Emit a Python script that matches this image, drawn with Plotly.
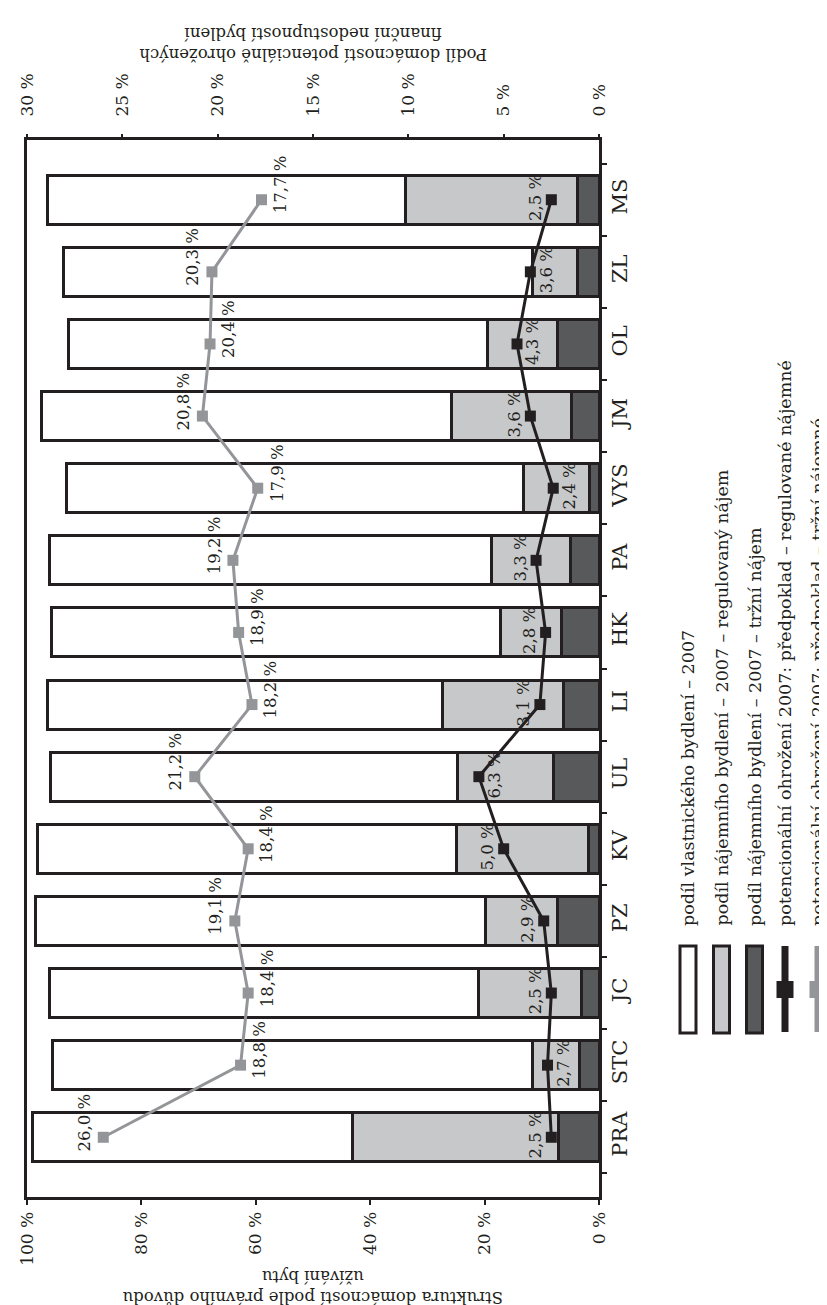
import plotly.graph_objects as go

# ---------------- data ----------------
regions = ["PRA", "STC", "JC", "PZ", "KV", "UL", "LI", "HK", "PA", "VYS", "JM", "OL", "ZL", "MS"]

# structure of households by legal reason of dwelling use (% of households)
rent_market = [7.0, 3.4, 3.1, 7.3, 1.9, 7.9, 6.2, 6.5, 4.9, 1.7, 4.8, 7.2, 3.8, 3.8]
rent_regulated = [36.1, 8.2, 17.9, 12.6, 23.0, 16.8, 21.2, 10.7, 13.9, 11.5, 21.0, 12.3, 7.9, 30.0]
owner = [56.0, 84.0, 75.1, 78.6, 73.2, 71.2, 69.1, 78.6, 77.3, 79.9, 71.6, 73.3, 81.9, 62.7]

# share of households potentially at risk (%)
risk_regulated = [2.5, 2.7, 2.5, 2.9, 5.0, 6.3, 3.1, 2.8, 3.3, 2.4, 3.6, 4.3, 3.6, 2.5]
risk_market = [26.0, 18.8, 18.4, 19.1, 18.4, 21.2, 18.2, 18.9, 19.2, 17.9, 20.8, 20.4, 20.3, 17.7]

primary_ticks = [0, 20, 40, 60, 80, 100]
secondary_ticks = [0, 5, 10, 15, 20, 25, 30]

legend_labels = [
    "podíl vlastnického bydlení – 2007",
    "podíl nájemního bydlení – 2007 – regulovaný nájem",
    "podíl nájemního bydlení – 2007 – tržní nájem",
    "potencionální ohrožení 2007: předpoklad – regulované nájemné",
    "potencionální ohrožení 2007: předpoklad – tržní nájemné",
]

# label placement (styling): -1 = left of marker, +1 = right of marker
side_regulated = [-1, 1, -1, -1, -1, 1, -1, -1, -1, 1, -1, 1, 1, -1]
side_market = [-1, 1, 1, -1, 1, -1, 1, 1, -1, 1, -1, 1, -1, 1]

# ---------------- style ----------------
W, H = 827, 1305
PL, PR, PT, PB = 19, 591, 132, 1189  # plot area in pixels
FONT = "DejaVu Serif"
BLACK = "#231f20"
LIGHT = "#c7c8ca"
DARK = "#58595b"
GREYLINE = "#939598"


def fmt(v):
    return f"{v:.1f}".replace(".", ",") + " %"


def px(x):
    return (x - PL) / (PR - PL)


def py(y):
    return (PB - y) / (PB - PT)


fig = go.Figure()

for vals, col in [(rent_market, DARK), (rent_regulated, LIGHT), (owner, "white")]:
    fig.add_trace(go.Bar(
        y=regions, x=vals, orientation="h",
        marker=dict(color=col, line=dict(color=BLACK, width=3)),
        xaxis="x", yaxis="y", showlegend=False, hoverinfo="skip",
    ))

for vals, col in [(risk_regulated, BLACK), (risk_market, GREYLINE)]:
    fig.add_trace(go.Scatter(
        y=regions, x=vals, mode="lines+markers",
        line=dict(color=col, width=3),
        marker=dict(symbol="square", size=11, color=col),
        xaxis="x2", yaxis="y", showlegend=False, hoverinfo="skip",
    ))

annotations = []
for vals, sides, dx, dy in [(risk_regulated, side_regulated, 16, 2), (risk_market, side_market, 19, 15)]:
    for r, v, s in zip(regions, vals, sides):
        annotations.append(dict(
            x=v, y=r, xref="x2", yref="y", text=fmt(v), textangle=-90,
            showarrow=False, xanchor="center", yanchor="middle",
            xshift=s * dx, yshift=dy,
            font=dict(family=FONT, size=16.5, color=BLACK),
        ))

# axis titles (upside down, as in the rotated original)
annotations.append(dict(
    x=px((PL + PR) / 2), y=py(1279), xref="paper", yref="paper",
    text="Struktura domácností podle právního důvodu<br>užívání bytu",
    textangle=180, showarrow=False, xanchor="center", yanchor="middle",
    font=dict(family=FONT, size=16.5, color=BLACK),
))
annotations.append(dict(
    x=px((PL + PR) / 2), y=py(36), xref="paper", yref="paper",
    text="Podíl domácností potenciálně ohrožených<br>finanční nedostupností bydlení",
    textangle=180, showarrow=False, xanchor="center", yanchor="middle",
    font=dict(family=FONT, size=16.5, color=BLACK),
))

# legend (rotated)
leg_x = [680, 713.5, 746.5, 777, 810]
shapes = []
for i, (lx, lab) in enumerate(zip(leg_x, legend_labels)):
    annotations.append(dict(
        x=px(lx), y=py(920), xref="paper", yref="paper", text=lab,
        textangle=-90, showarrow=False, xanchor="center", yanchor="bottom",
        font=dict(family=FONT, size=17.5, color=BLACK),
    ))
    if i < 3:
        fill = ["white", LIGHT, DARK][i]
        shapes.append(dict(type="rect", xref="paper", yref="paper",
                           x0=px(lx - 8), x1=px(lx + 8), y0=py(1025), y1=py(938),
                           fillcolor=fill, line=dict(color=BLACK, width=3)))
    else:
        col = [BLACK, GREYLINE][i - 3]
        shapes.append(dict(type="line", xref="paper", yref="paper",
                           x0=px(lx), x1=px(lx), y0=py(1024), y1=py(938),
                           line=dict(color=col, width=7)))
        shapes.append(dict(type="rect", xref="paper", yref="paper",
                           x0=px(lx - 8.5), x1=px(lx + 8.5), y0=py(990), y1=py(973),
                           fillcolor=col, line=dict(width=0)))

fig.update_layout(
    template="none",
    width=W, height=H,
    margin=dict(l=PL, r=W - PR, t=PT, b=H - PB, pad=0, autoexpand=False),
    paper_bgcolor="white", plot_bgcolor="white",
    barmode="stack", bargap=0.32,
    font=dict(family=FONT, color=BLACK),
    xaxis=dict(
        range=[100, 0], tickvals=primary_ticks, ticktext=[f"{t} %" for t in primary_ticks],
        tickangle=-90, tickfont=dict(family=FONT, size=17, color=BLACK),
        ticks="outside", ticklen=5, tickwidth=1.5, tickcolor=BLACK,
        showline=True, linecolor=BLACK, linewidth=3, mirror=True,
        showgrid=False, zeroline=False, automargin=False,
    ),
    xaxis2=dict(
        range=[30, 0], overlaying="x", side="top", anchor="y",
        tickvals=secondary_ticks, ticktext=[f"{t} %" for t in secondary_ticks],
        tickangle=-90, tickfont=dict(family=FONT, size=17, color=BLACK),
        ticks="outside", ticklen=5, tickwidth=1.5, tickcolor=BLACK,
        ticklabelstandoff=14,
        showline=False, showgrid=False, zeroline=False, automargin=False,
    ),
    yaxis=dict(
        categoryorder="array", categoryarray=regions, side="right",
        tickangle=-90, tickfont=dict(family=FONT, size=21, color=BLACK),
        ticks="outside", ticklen=5, tickwidth=1.5, tickcolor=BLACK, tickson="boundaries",
        showline=True, linecolor=BLACK, linewidth=3, mirror=True,
        showgrid=False, zeroline=False, automargin=False,
    ),
    annotations=annotations,
    shapes=shapes,
)

fig.write_html("out.html")
